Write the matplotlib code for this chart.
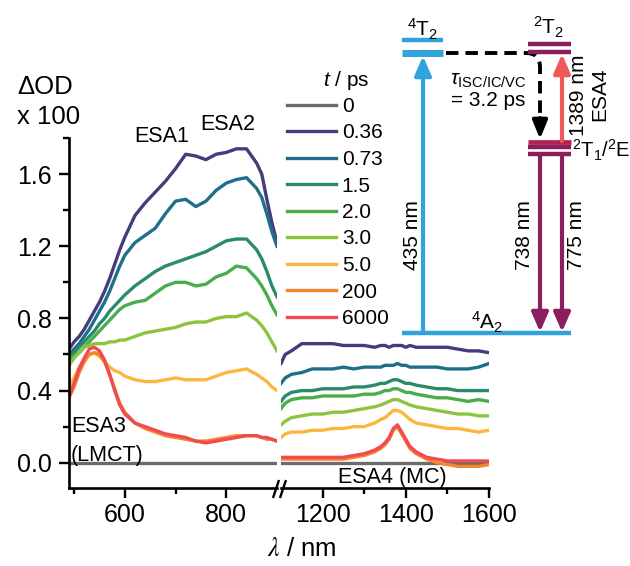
import matplotlib
matplotlib.use("Agg")
import matplotlib.pyplot as plt
from matplotlib.path import Path
from matplotlib.patches import PathPatch
from matplotlib.ticker import FixedLocator, FormatStrFormatter

plt.rcParams['font.family'] = ['Liberation Sans', 'DejaVu Sans']
plt.rcParams['mathtext.fontset'] = 'custom'
plt.rcParams['mathtext.rm'] = 'Liberation Sans'
plt.rcParams['mathtext.it'] = 'Liberation Sans:italic'
plt.rcParams['mathtext.bf'] = 'Liberation Sans:bold'
plt.rcParams['mathtext.sf'] = 'Liberation Sans'

# ---------------- data ----------------
delays = ['0', '0.36', '0.73', '1.5', '2.0', '3.0', '5.0', '200', '6000']
colors = ['#6b6b6b', '#433d7c', '#1f6f8c', '#2c8a6c', '#4aac4a', '#8dc43f',
          '#fbb640', '#f7862a', '#ee4b52']

wl_vis = [490, 500, 510, 520, 530, 540, 550, 560, 570, 580, 590, 600, 620, 640, 660,
          680, 700, 720, 740, 760, 780, 800, 820, 840, 860, 870, 880, 890, 900]
vis_0 = [0.0] * len(wl_vis)
vis_036 = [0.63, 0.67, 0.70, 0.74, 0.79, 0.84, 0.89, 0.95, 1.02, 1.10, 1.18, 1.25, 1.37, 1.44, 1.50,
           1.56, 1.63, 1.71, 1.70, 1.68, 1.71, 1.72, 1.74, 1.74, 1.66, 1.60, 1.46, 1.33, 1.22]
vis_073 = [0.60, 0.63, 0.66, 0.70, 0.74, 0.79, 0.84, 0.89, 0.95, 1.02, 1.09, 1.15, 1.22, 1.26, 1.30,
           1.38, 1.45, 1.46, 1.42, 1.45, 1.51, 1.55, 1.57, 1.58, 1.52, 1.47, 1.38, 1.28, 1.20]
vis_15 = [0.58, 0.61, 0.64, 0.67, 0.70, 0.73, 0.77, 0.80, 0.84, 0.87, 0.90, 0.93, 0.98, 1.02, 1.06,
          1.09, 1.11, 1.13, 1.15, 1.17, 1.20, 1.23, 1.24, 1.24, 1.18, 1.13, 1.06, 0.98, 0.92]
vis_20 = [0.57, 0.59, 0.61, 0.64, 0.67, 0.70, 0.73, 0.76, 0.79, 0.82, 0.85, 0.87, 0.89, 0.90, 0.94,
          0.98, 1.00, 1.00, 0.98, 0.99, 1.03, 1.05, 1.09, 1.08, 1.02, 0.98, 0.93, 0.87, 0.82]
vis_30 = [0.54, 0.58, 0.61, 0.64, 0.65, 0.66, 0.66, 0.66, 0.67, 0.67, 0.68, 0.68, 0.70, 0.72, 0.73,
          0.74, 0.75, 0.77, 0.78, 0.78, 0.80, 0.81, 0.81, 0.83, 0.79, 0.76, 0.72, 0.67, 0.62]
vis_50 = [0.42, 0.47, 0.53, 0.57, 0.60, 0.61, 0.59, 0.56, 0.53, 0.51, 0.50, 0.48, 0.46, 0.45, 0.45,
          0.46, 0.47, 0.46, 0.46, 0.46, 0.48, 0.50, 0.51, 0.52, 0.49, 0.47, 0.45, 0.42, 0.40]
vis_200 = [0.36, 0.42, 0.50, 0.56, 0.60, 0.61, 0.60, 0.56, 0.49, 0.41, 0.33, 0.28, 0.22, 0.19, 0.17,
           0.15, 0.14, 0.13, 0.12, 0.12, 0.13, 0.14, 0.15, 0.15, 0.15, 0.14, 0.13, 0.13, 0.12]
vis_6000 = [0.37, 0.44, 0.52, 0.58, 0.63, 0.64, 0.62, 0.57, 0.49, 0.40, 0.32, 0.27, 0.22, 0.20, 0.18,
            0.16, 0.15, 0.14, 0.12, 0.11, 0.12, 0.13, 0.14, 0.15, 0.15, 0.14, 0.14, 0.13, 0.12]

wl_nir = [1100, 1110, 1125, 1150, 1175, 1200, 1225, 1250, 1275, 1300, 1325, 1340, 1350, 1360,
          1370, 1380, 1390, 1400, 1410, 1425, 1450, 1475, 1500, 1525, 1550, 1575, 1600]
nir_0 = [0.0] * len(wl_nir)
nir_036 = [0.55, 0.60, 0.62, 0.66, 0.66, 0.66, 0.66, 0.65, 0.65, 0.65, 0.64, 0.65, 0.65, 0.64,
           0.65, 0.65, 0.65, 0.64, 0.65, 0.64, 0.64, 0.64, 0.64, 0.63, 0.62, 0.62, 0.61]
nir_073 = [0.44, 0.47, 0.49, 0.50, 0.52, 0.52, 0.52, 0.53, 0.52, 0.53, 0.53, 0.53, 0.54, 0.54,
           0.54, 0.55, 0.54, 0.54, 0.53, 0.53, 0.53, 0.53, 0.52, 0.52, 0.52, 0.53, 0.55]
nir_15 = [0.34, 0.37, 0.39, 0.40, 0.40, 0.41, 0.41, 0.41, 0.42, 0.42, 0.43, 0.44, 0.44, 0.45,
          0.46, 0.46, 0.45, 0.44, 0.44, 0.43, 0.42, 0.41, 0.41, 0.40, 0.40, 0.40, 0.40]
nir_20 = [0.30, 0.33, 0.35, 0.36, 0.36, 0.37, 0.37, 0.37, 0.37, 0.38, 0.38, 0.39, 0.40, 0.40,
          0.41, 0.41, 0.40, 0.39, 0.39, 0.38, 0.37, 0.36, 0.36, 0.35, 0.34, 0.35, 0.34]
nir_30 = [0.21, 0.23, 0.25, 0.26, 0.27, 0.27, 0.28, 0.28, 0.29, 0.30, 0.31, 0.32, 0.33, 0.34,
          0.35, 0.35, 0.34, 0.33, 0.32, 0.31, 0.30, 0.29, 0.28, 0.27, 0.27, 0.26, 0.26]
nir_50 = [0.14, 0.16, 0.17, 0.17, 0.18, 0.18, 0.19, 0.19, 0.20, 0.20, 0.22, 0.24, 0.25, 0.27,
          0.29, 0.29, 0.28, 0.26, 0.24, 0.22, 0.21, 0.20, 0.19, 0.19, 0.18, 0.17, 0.18]
nir_200 = [0.02, 0.02, 0.02, 0.02, 0.02, 0.02, 0.02, 0.02, 0.03, 0.04, 0.06, 0.08, 0.10, 0.13,
           0.18, 0.20, 0.16, 0.12, 0.08, 0.05, 0.02, 0.00, -0.01, -0.02, -0.02, -0.02, -0.01]
nir_6000 = [0.03, 0.03, 0.03, 0.03, 0.03, 0.03, 0.03, 0.03, 0.04, 0.05, 0.07, 0.09, 0.11, 0.14,
            0.19, 0.21, 0.17, 0.13, 0.09, 0.06, 0.03, 0.02, 0.01, 0.01, 0.01, 0.01, 0.01]

vis_series = [vis_0, vis_036, vis_073, vis_15, vis_20, vis_30, vis_50, vis_200, vis_6000]
nir_series = [nir_0, nir_036, nir_073, nir_15, nir_20, nir_30, nir_50, nir_200, nir_6000]

W, H = 630, 566
fig = plt.figure(figsize=(6.3, 5.66), dpi=100)

def fx(px):
    return px / W

def fy(py):
    return 1 - py / H

y_bot, y_top = 488, 138
axL = fig.add_axes([fx(69), fy(y_bot), (277 - 69) / W, (y_bot - y_top) / H])
axR = fig.add_axes([fx(281), fy(y_bot), (489 - 281) / W, (y_bot - y_top) / H])

LW = 2.4
lines = []
for vals, c in zip(vis_series, colors):
    ln, = axL.plot(wl_vis, vals, color=c, lw=LW, solid_joinstyle='round')
    lines.append(ln)
for vals, c in zip(nir_series, colors):
    axR.plot(wl_nir, vals, color=c, lw=LW, solid_joinstyle='round')

TICK_FS = 18
for ax in (axL, axR):
    ax.set_ylim(-0.14, 1.8)
    ax.patch.set_alpha(0)
    for s in ('top', 'right'):
        ax.spines[s].set_visible(False)
    ax.spines['bottom'].set_linewidth(1.9)
    ax.spines['left'].set_linewidth(1.9)
    ax.tick_params(axis='both', which='major', direction='out', length=7.5, width=1.7,
                   labelsize=TICK_FS, pad=3)
    ax.tick_params(axis='both', which='minor', direction='out', length=4, width=1.7)

axL.set_xlim(490, 900)
axL.xaxis.set_major_locator(FixedLocator([600, 800]))
axL.xaxis.set_minor_locator(FixedLocator([500, 700]))
axL.yaxis.set_major_locator(FixedLocator([0.0, 0.4, 0.8, 1.2, 1.6]))
axL.yaxis.set_minor_locator(FixedLocator([0.2, 0.6, 1.0, 1.4, 1.8]))
axL.yaxis.set_major_formatter(FormatStrFormatter('%.1f'))
axL.tick_params(axis='y', pad=5)

axR.set_xlim(1100, 1600)
axR.xaxis.set_major_locator(FixedLocator([1200, 1400, 1600]))
axR.xaxis.set_minor_locator(FixedLocator([1300, 1500]))
axR.spines['left'].set_visible(False)
axR.tick_params(axis='y', which='both', left=False, labelleft=False)

# legend
leg = axL.legend(lines, delays, loc='upper left', frameon=False, fontsize=15,
                 bbox_to_anchor=(fx(287), fy(97)), bbox_transform=fig.transFigure,
                 borderaxespad=0, borderpad=0, handlelength=2.35, handletextpad=0.28,
                 labelspacing=0.36)
for h in leg.get_lines():
    h.set_linewidth(2.4)

# overlay for annotations and energy diagram (pixel-like coords)
ov = fig.add_axes([0, 0, 1, 1], zorder=5)
ov.set_xlim(0, W)
ov.set_ylim(H, 0)
ov.axis('off')

TFS = 15.5
ov.text(17, 87, 'ΔOD', fontsize=18.5, ha='left', va='center')
ov.text(17, 117, 'x 100', fontsize=18.5, ha='left', va='center')
ov.text(162, 137, 'ESA1', fontsize=TFS, ha='center', va='center')
ov.text(228, 125, 'ESA2', fontsize=TFS, ha='center', va='center')
ov.text(71, 426, 'ESA3', fontsize=TFS, ha='left', va='center')
ov.text(71, 455, '(LMCT)', fontsize=TFS, ha='left', va='center')
ov.text(392, 477, 'ESA4 (MC)', fontsize=TFS, ha='center', va='center')
ov.text(302, 549, r'$\lambda$ / nm', fontsize=18.5, ha='center', va='center',
        math_fontfamily='stix')
ov.text(346, 81, r'$t$ / ps', fontsize=15, ha='center', va='center')

# break marks
for x0 in (273, 280):
    ov.plot([x0, x0 + 6], [498, 480], color='black', lw=1.7, solid_capstyle='butt')

# energy diagram
BLUE = '#2ea3dc'
PURP = '#8b1e5e'
CRIM = '#b3214f'
RED = '#f0595a'

ov.plot([402, 443], [40, 40], color=BLUE, lw=3.2, solid_capstyle='butt')
ov.plot([402, 443], [53, 53], color=BLUE, lw=5, solid_capstyle='butt')
ov.plot([402, 571], [333, 333], color=BLUE, lw=3.2, solid_capstyle='butt')
ov.plot([528, 571], [44, 44], color=PURP, lw=3.2, solid_capstyle='butt')
ov.plot([528, 571], [51.5, 51.5], color=PURP, lw=3.2, solid_capstyle='butt')
ov.plot([528, 571], [142, 142], color=CRIM, lw=3.4, solid_capstyle='butt')
ov.plot([528, 571], [147, 147], color=PURP, lw=3.2, solid_capstyle='butt')
ov.plot([528, 571], [154, 154], color=PURP, lw=3.2, solid_capstyle='butt')

def arrow(x0, y0, x1, y1, color, lw=3, hw=0.5, hl=1.15):
    ov.annotate('', xy=(x1, y1), xytext=(x0, y0), xycoords='data',
                arrowprops=dict(arrowstyle=f'-|>,head_width={hw},head_length={hl}',
                                color=color, lw=lw, shrinkA=0, shrinkB=0,
                                mutation_scale=10))

arrow(423, 333, 423, 56, BLUE)
arrow(540, 155, 540, 332, PURP)
arrow(562, 155, 562, 332, PURP)
arrow(562, 141, 562, 54, RED)

# dashed ISC path
verts = [(446, 53), (526, 53), (540, 53), (540, 67), (540, 120)]
codes = [Path.MOVETO, Path.LINETO, Path.CURVE3, Path.CURVE3, Path.LINETO]
ov.add_patch(PathPatch(Path(verts, codes), fill=False, edgecolor='black', lw=2.8,
                       linestyle=(0, (3.2, 1.8)), capstyle='butt'))
arrow(540, 118, 540, 139, 'black', lw=2.8, hw=0.45, hl=1.1)

DFS = 15
ov.text(423, 29, r'${}^{4}\mathrm{T}_{2}$', fontsize=DFS, ha='center', va='center')
ov.text(549, 27, r'${}^{2}\mathrm{T}_{2}$', fontsize=DFS, ha='center', va='center')
ov.text(572, 150, r'${}^{2}\mathrm{T}_{1}/{}^{2}\mathrm{E}$', fontsize=14.5, ha='left', va='center')
ov.text(487, 322, r'${}^{4}\mathrm{A}_{2}$', fontsize=DFS, ha='center', va='center')
ov.text(488, 81, r'$\tau_{\mathrm{ISC/IC/VC}}$', fontsize=DFS, ha='center', va='center')
ov.text(488, 101, '= 3.2 ps', fontsize=DFS, ha='center', va='center')
ov.text(412, 235, '435 nm', fontsize=DFS, ha='center', va='center', rotation=90)
ov.text(524, 235, '738 nm', fontsize=DFS, ha='center', va='center', rotation=90)
ov.text(577, 235, '775 nm', fontsize=DFS, ha='center', va='center', rotation=90)
ov.text(578.5, 95, '1389 nm', fontsize=DFS, ha='center', va='center', rotation=90)
ov.text(599.5, 94, 'ESA4', fontsize=DFS, ha='center', va='center', rotation=90)

fig.savefig('out.png', dpi=100)
